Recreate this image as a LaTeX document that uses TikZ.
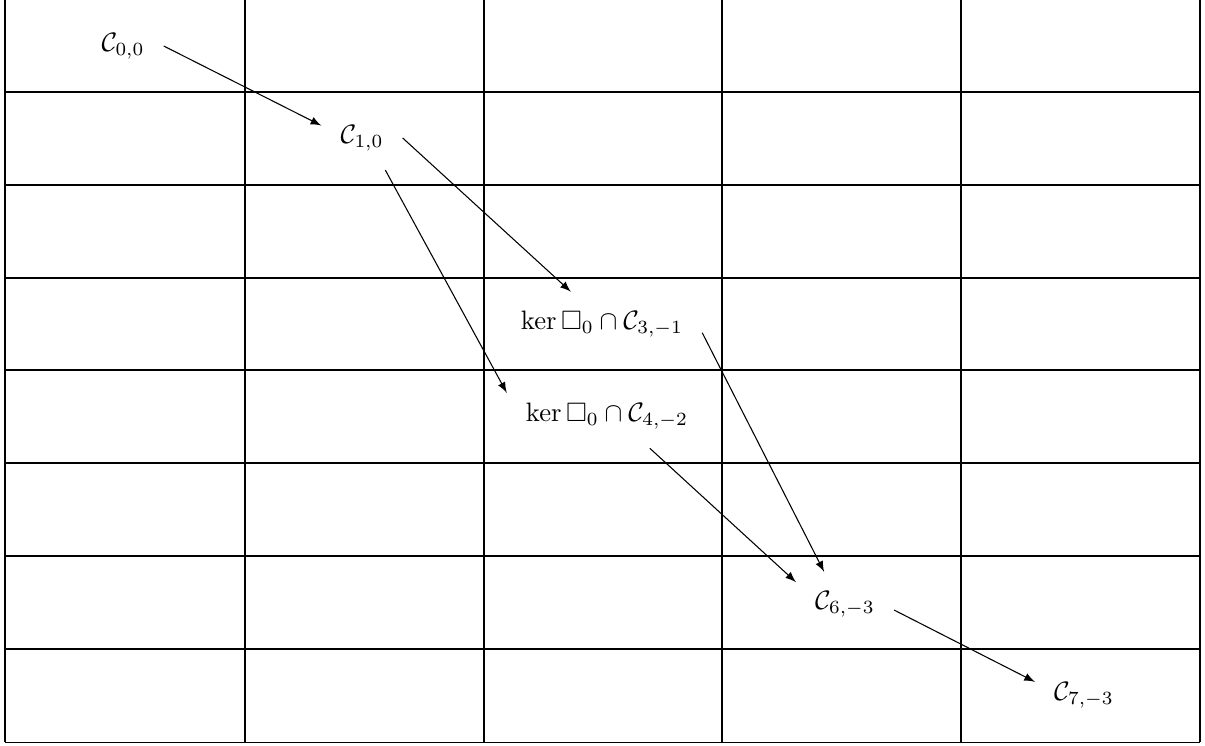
\documentclass[tikz,border=0pt]{standalone}
\usepackage{amsmath,amssymb}
\begin{document}
\begin{tikzpicture}[x=0.375pt, y=-0.375pt, -latex, every node/.style={inner sep=7pt}]
  \useasboundingbox (0,0) rectangle (1205,746);
  % grid
  \foreach \gx in {5,245,484,722,961,1200}
    \draw[-] (\gx,0) -- (\gx,742.5);
  \foreach \gy in {92,185,278,370,463,556,649,742.5}
    \draw[-] (5,\gy) -- (1200,\gy);
  % spaces
  \node (c00) at (123,46) {$\mathcal{C}_{0,0}$};
  \node (c10) at (362,138) {$\mathcal{C}_{1,0}$};
  \node (k31) at (602,324) {$\ker\Box_0\cap\mathcal{C}_{3,-1}$};
  \node (k42) at (607,416) {$\ker\Box_0\cap\mathcal{C}_{4,-2}$};
  \node (c63) at (845,604) {$\mathcal{C}_{6,-3}$};
  \node (c73) at (1084,695) {$\mathcal{C}_{7,-3}$};
  % maps
  \draw (c00.east) -- (c10.163);
  \draw (c10.east) -- (k31.134);
  \draw (c10.306) -- (k42.167);
  \draw (k31.355) -- (c63.123);
  \draw (k42.323) -- (c63.156);
  \draw (c63.353) -- (c73.165);
\end{tikzpicture}
\end{document}
